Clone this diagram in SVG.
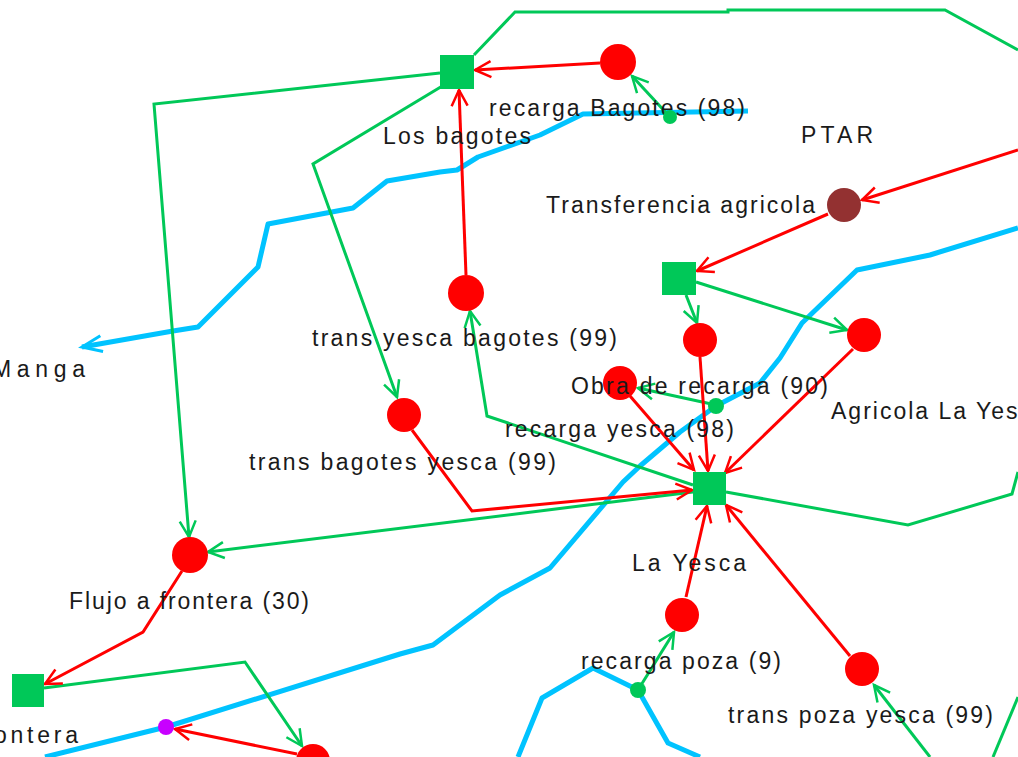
<svg xmlns="http://www.w3.org/2000/svg" width="1018" height="757" viewBox="0 0 1018 757">
<style>
.g{fill:none;stroke:#00c858;stroke-width:3;stroke-linejoin:miter}
.r{fill:none;stroke:#ff0000;stroke-width:3}
.b{fill:none;stroke:#00c3ff;stroke-width:5;stroke-linejoin:round}
.lbl{font-family:"Liberation Sans",Arial,sans-serif;font-size:23px;fill:#1a1a1a}
.sq{fill:#00c858}
.rc{fill:#ff0000}
.gd{fill:#00c858}
</style>
<defs>
<marker id="ag" markerUnits="userSpaceOnUse" viewBox="-18 -10 20 20" markerWidth="20" markerHeight="20" refX="0" refY="0" orient="auto" overflow="visible"><path d="M-16,-8 L0,0 L-16,8" fill="none" stroke="#00c858" stroke-width="2.5"/></marker>
<marker id="ar" markerUnits="userSpaceOnUse" viewBox="-18 -10 20 20" markerWidth="20" markerHeight="20" refX="0" refY="0" orient="auto" overflow="visible"><path d="M-16,-8 L0,0 L-16,8" fill="none" stroke="#ff0000" stroke-width="2.5"/></marker>
<marker id="ab" markerUnits="userSpaceOnUse" viewBox="-22 -10 24 20" markerWidth="24" markerHeight="20" refX="0" refY="0" orient="auto" overflow="visible"><path d="M-20,-8 L0,0 L-20,8" fill="none" stroke="#00c3ff" stroke-width="3"/></marker>
</defs>
<rect width="1018" height="757" fill="#ffffff"/>
<g id="connectors">
<polyline class="b" points="748,111 583,114 540,135 478,157 457,170 440,172 387,181 353,208 268,224 258,267 198,327 173,331 82,347" marker-end="url(#ab)"/>
<polyline class="b" points="1018,228 930,255 857,270 802,323 780,358 760,383 716,406 680,432 640,466 623,482 550,568 500,595 433,645 400,654 166,727 45,757"/>
<polyline class="b" points="518,757 542,698 593,668 638,690 668,743 700,757"/>
<polyline class="g" points="474,55 515,12 728,12 728,10 945,10 1018,50"/>
<polyline class="g" points="440,73 154,104 189,537" marker-end="url(#ag)"/>
<polyline class="g" points="444,85 313,164 397,397" marker-end="url(#ag)"/>
<polyline class="g" points="693,485 487,416 470,311" marker-end="url(#ag)"/>
<polyline class="g" points="726,492 908,525 1012,494 1018,472"/>
<line class="g" x1="696" y1="282" x2="847" y2="330" marker-end="url(#ag)"/>
<line class="g" x1="686" y1="295" x2="697" y2="323" marker-end="url(#ag)"/>
<line class="g" x1="716" y1="405" x2="638" y2="388" marker-end="url(#ag)"/>
<line class="g" x1="670" y1="117" x2="632" y2="76" marker-end="url(#ag)"/>
<line class="g" x1="693" y1="492" x2="208" y2="552" marker-end="url(#ag)"/>
<polyline class="g" points="44,688 245,662 302,746" marker-end="url(#ag)"/>
<line class="g" x1="638" y1="690" x2="674" y2="632" marker-end="url(#ag)"/>
<line class="g" x1="930" y1="757" x2="874" y2="685" marker-end="url(#ag)"/>
<line class="g" x1="993" y1="757" x2="1018" y2="697"/>
<line class="r" x1="600" y1="63" x2="475" y2="70" marker-end="url(#ar)"/>
<line class="r" x1="466" y1="275" x2="459" y2="90" marker-end="url(#ar)"/>
<line class="r" x1="1018" y1="150" x2="862" y2="200" marker-end="url(#ar)"/>
<line class="r" x1="828" y1="214" x2="697" y2="271" marker-end="url(#ar)"/>
<line class="r" x1="700" y1="357" x2="708" y2="471" marker-end="url(#ar)"/>
<line class="r" x1="630" y1="396" x2="694" y2="470" marker-end="url(#ar)"/>
<line class="r" x1="853" y1="349" x2="725" y2="473" marker-end="url(#ar)"/>
<polyline class="r" points="412,430 472,511 692,490" marker-end="url(#ar)"/>
<line class="r" x1="686" y1="597" x2="707" y2="506" marker-end="url(#ar)"/>
<line class="r" x1="850" y1="656" x2="726" y2="505" marker-end="url(#ar)"/>
<polyline class="r" points="182,571 143,632 45,684" marker-end="url(#ar)"/>
<line class="r" x1="297" y1="754" x2="175" y2="729" marker-end="url(#ar)"/>
</g>
<g id="los-bagotes"><rect class="sq" x="440" y="55" width="34" height="34"/><text class="lbl" x="383" y="144" textLength="148" lengthAdjust="spacing">Los bagotes</text></g>
<g id="recarga-bagotes"><circle class="rc" cx="618" cy="62" r="18"/><text class="lbl" x="489" y="116" textLength="256" lengthAdjust="spacing">recarga Bagotes (98)</text></g>
<g id="dot-bagotes"><circle class="gd" cx="670" cy="117" r="7"/></g>
<g id="ptar"><text class="lbl" x="801" y="143" textLength="72" lengthAdjust="spacing">PTAR</text></g>
<g id="transferencia-agricola"><circle cx="844" cy="205" r="17" fill="#933131"/><text class="lbl" x="546" y="213" textLength="269" lengthAdjust="spacing">Transferencia agricola</text></g>
<g id="square-mid"><rect class="sq" x="662" y="262" width="34" height="33"/></g>
<g id="circle-mid"><circle class="rc" cx="700" cy="340" r="17"/></g>
<g id="agricola-la-yesca"><circle class="rc" cx="864" cy="335" r="17"/><text class="lbl" x="831" y="419" letter-spacing="2">Agricola La Yesca</text></g>
<g id="obra-de-recarga"><circle class="rc" cx="620" cy="383" r="17"/><text class="lbl" x="571" y="394" textLength="257" lengthAdjust="spacing">Obra de recarga (90)</text></g>
<g id="dot-yesca"><circle class="gd" cx="716" cy="406" r="8"/><text class="lbl" x="505" y="437" textLength="229" lengthAdjust="spacing">recarga yesca (98)</text></g>
<g id="trans-yesca-bagotes"><circle class="rc" cx="466" cy="293" r="18"/><text class="lbl" x="312" y="346" textLength="305" lengthAdjust="spacing">trans yesca bagotes (99)</text></g>
<g id="trans-bagotes-yesca"><circle class="rc" cx="404" cy="415" r="17"/><text class="lbl" x="249" y="470" textLength="307" lengthAdjust="spacing">trans bagotes yesca (99)</text></g>
<g id="la-yesca"><rect class="sq" x="693" y="472" width="33" height="33"/><text class="lbl" x="632" y="571" textLength="114" lengthAdjust="spacing">La Yesca</text></g>
<g id="flujo-a-frontera"><circle class="rc" cx="190" cy="555" r="18"/><text class="lbl" x="69" y="609" textLength="240" lengthAdjust="spacing">Flujo a frontera (30)</text></g>
<g id="frontera"><rect class="sq" x="12" y="674" width="32" height="33"/><text class="lbl" x="-6" y="743" textLength="84" lengthAdjust="spacing">ontera</text></g>
<g id="dot-magenta"><circle cx="166" cy="727" r="8" fill="#c800ff"/></g>
<g id="circle-bottom"><circle class="rc" cx="313" cy="761" r="17"/></g>
<g id="recarga-poza"><circle class="rc" cx="682" cy="615" r="17"/><text class="lbl" x="581" y="669" textLength="200" lengthAdjust="spacing">recarga poza (9)</text></g>
<g id="dot-poza"><circle class="gd" cx="638" cy="690" r="8"/></g>
<g id="trans-poza-yesca"><circle class="rc" cx="862" cy="669" r="17"/><text class="lbl" x="728" y="723" textLength="265" lengthAdjust="spacing">trans poza yesca (99)</text></g>
<g id="manga"><text class="lbl" x="-8" y="377" textLength="93" lengthAdjust="spacing">Manga</text></g>
</svg>
